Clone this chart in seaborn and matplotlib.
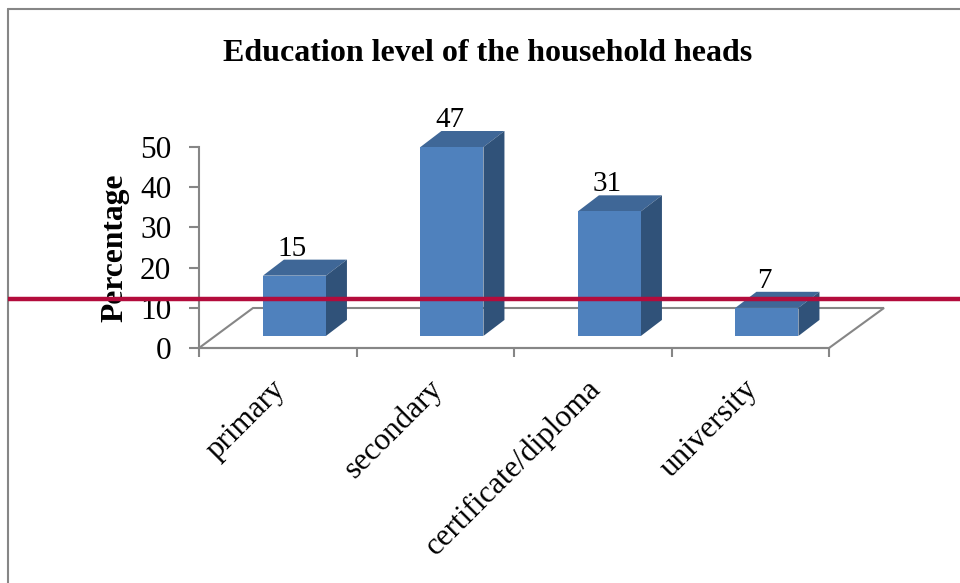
import matplotlib
matplotlib.use('Agg')
import matplotlib.pyplot as plt
from matplotlib.patches import Polygon
from matplotlib.lines import Line2D
import numpy as np
import pandas as pd
import seaborn as sns

## DATA
levels = ['primary', 'secondary', 'certificate/diploma', 'university']
percent = [15, 47, 31, 7]
y_ticks = [0, 10, 20, 30, 40, 50]

sns.set_theme(style='white')
plt.rcParams['font.family'] = ['Liberation Serif', 'DejaVu Serif']

GRAY = '#868686'
FRONT = '#4F81BD'
TOP = '#3F6797'
SIDE = '#305279'
W, H = 960, 583
BASE = 3  # bars float above the axis, on the fake 3d floor

fig = plt.figure(figsize=(W / 100, H / 100), dpi=100, facecolor='white')
ax = fig.add_axes([199 / W, 1 - 348 / H, 630 / W, 201 / H], facecolor='none')

df = pd.DataFrame({'level': levels, 'percent': percent})
sns.barplot(data=df, x='level', y='percent', color=FRONT, saturation=1, width=0.4,
            bottom=BASE, ax=ax, zorder=3, linewidth=0)

ax.set_ylim(0, 50)
ax.set_xlim(-0.606, 3.394)
ax.set_xlabel('')
ax.set_ylabel('')
for s in ['top', 'right']:
    ax.spines[s].set_visible(False)
for s in ['left', 'bottom']:
    ax.spines[s].set_color(GRAY)
    ax.spines[s].set_linewidth(1.5)

ax.set_yticks(y_ticks)
ax.tick_params(axis='y', length=7, width=1.5, color=GRAY, labelsize=22.5, pad=13, left=True,
               labelcolor='black')
# category boundaries carry the tick marks, the names are placed below
ax.set_xticks(np.arange(len(levels) + 1) - 0.606)
ax.set_xticklabels([])
ax.tick_params(axis='x', length=6.5, width=1.5, color=GRAY, bottom=True)

# floor of the 3d box, drawn in pixels from the axes corners
to_disp = ax.transData.transform
x0, x1 = ax.get_xlim()
fl = to_disp([(x0, 0), (x1, 0)])
floor = Polygon([fl[0], fl[0] + (54, 40), fl[1] + (55, 40), fl[1]], closed=True, fill=False,
                edgecolor=GRAY, lw=1.5, transform=None, zorder=1, clip_on=False)
ax.add_artist(floor)
floor.set_clip_on(False)

# depth faces + value labels from the seaborn bars
dx, dy = 21, 16
for bar, val in zip(ax.patches, percent):
    (xl, yb), (xr, yt) = to_disp([(bar.get_x(), bar.get_y()),
                                  (bar.get_x() + bar.get_width(), bar.get_y() + bar.get_height())])
    top = Polygon([(xl, yt), (xl + dx, yt + dy), (xr + dx, yt + dy), (xr, yt)],
                  facecolor=TOP, edgecolor='none', transform=None, zorder=2)
    side = Polygon([(xr, yb), (xr + dx, yb + dy), (xr + dx, yt + dy), (xr, yt)],
                   facecolor=SIDE, edgecolor='none', transform=None, zorder=2)
    for face in (top, side):
        ax.add_artist(face)
        face.set_clip_on(False)
    ax.annotate(str(val), xy=(bar.get_x() + bar.get_width() / 2, bar.get_y() + bar.get_height()),
                xytext=(-1.5, 19.5), textcoords='offset points', ha='center', va='center',
                fontsize=21, color='black', zorder=5, annotation_clip=False)

# rotated category labels
for i, name in enumerate(levels):
    ax.annotate(name, xy=(i, 0), xytext=(-9.5, -26.5), textcoords='offset points', rotation=45,
                rotation_mode='anchor', ha='right', va='center', fontsize=22.4, color='black',
                annotation_clip=False)

fig.text(488 / W, 1 - 53.5 / H, 'Education level of the household heads', ha='center', va='center',
         fontsize=23, fontweight='bold', color='black')
fig.text(115 / W, 1 - 248 / H, 'Percentage', rotation=90, ha='center', va='center',
         fontsize=22.7, fontweight='bold', color='black')

# chart frame, cut off by the page at right and bottom
fig.add_artist(Line2D([8 / W, 8 / W], [0, 1 - 9 / H], color=GRAY, lw=1.5))
fig.add_artist(Line2D([8 / W, 1], [1 - 9 / H, 1 - 9 / H], color=GRAY, lw=1.5))
# red rule across the page
fig.add_artist(Line2D([8 / W, 1], [1 - 298.5 / H, 1 - 298.5 / H], color='#B30C3C', lw=3.2, zorder=10,
                      solid_capstyle='butt'))

fig.savefig('out.png', dpi=100)
